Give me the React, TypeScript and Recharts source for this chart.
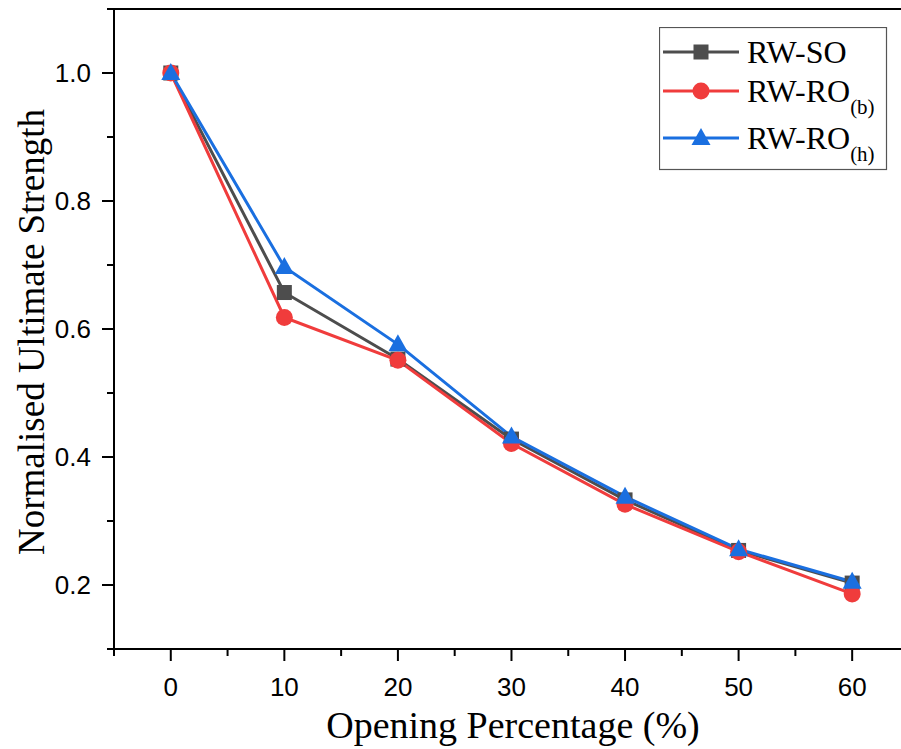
import { LineChart, Line, XAxis, YAxis, ReferenceLine, Label } from 'recharts';

const openings = [0, 10, 20, 30, 40, 50, 60];
const rwSO = [1.0, 0.657, 0.553, 0.428, 0.333, 0.254, 0.203];
const rwROb = [1.0, 0.618, 0.551, 0.421, 0.326, 0.252, 0.186];
const rwROh = [1.0, 0.697, 0.576, 0.432, 0.338, 0.256, 0.205];

const xTicks = [-5, 0, 5, 10, 15, 20, 25, 30, 35, 40, 45, 50, 55, 60];
const yTicks = [0.1, 0.2, 0.3, 0.4, 0.5, 0.6, 0.7, 0.8, 0.9, 1.0, 1.1];

const GRAY = '#4d4d4d';
const RED = '#f03c3c';
const BLUE = '#1a6fe0';

const SANS = '"Liberation Sans", Arial, sans-serif';
const SERIF = '"Liberation Serif", "Times New Roman", serif';

const data = openings.map((x, i) => ({ x, so: rwSO[i], rob: rwROb[i], roh: rwROh[i] }));

function SquareDot({ cx, cy }: any) {
  if (cx == null || cy == null) return null;
  return <rect x={cx - 7.5} y={cy - 7.5} width={15} height={15} fill={GRAY} />;
}
function CircleDot({ cx, cy }: any) {
  if (cx == null || cy == null) return null;
  return <circle cx={cx} cy={cy} r={8.5} fill={RED} />;
}
function TriDot({ cx, cy }: any) {
  if (cx == null || cy == null) return null;
  return <path d={`M${cx},${cy - 10} L${cx + 9.5},${cy + 7} L${cx - 9.5},${cy + 7} Z`} fill={BLUE} />;
}

function XTick({ x, y, payload }: any) {
  const v = payload.value;
  const major = v >= 0 && v % 10 === 0;
  return (
    <g>
      <line x1={x} x2={x} y1={y} y2={y + (major ? 12 : 7)} stroke="#000" strokeWidth={2} />
      {major && (
        <text x={x} y={y + 47} textAnchor="middle" fontFamily={SANS} fontSize={26} fill="#000">
          {v}
        </text>
      )}
    </g>
  );
}

function YTick({ x, y, payload }: any) {
  const v = payload.value;
  const k = Math.round(v * 10);
  const major = k % 2 === 0 && k >= 2 && k <= 10;
  return (
    <g>
      <line x1={x} x2={x - (major ? 12 : 7)} y1={y} y2={y} stroke="#000" strokeWidth={2} />
      {major && (
        <text x={x - 23} y={y + 9} textAnchor="end" fontFamily={SANS} fontSize={26} fill="#000">
          {v.toFixed(1)}
        </text>
      )}
    </g>
  );
}

function LegendBox() {
  const rows = [
    { name: 'RW-SO', sub: '', color: GRAY, Dot: SquareDot, y: 25 },
    { name: 'RW-RO', sub: '(b)', color: RED, Dot: CircleDot, y: 64 },
    { name: 'RW-RO', sub: '(h)', color: BLUE, Dot: TriDot, y: 111 },
  ];
  return (
    <svg width={229} height={144} style={{ position: 'absolute', left: 659, top: 27 }}>
      <rect x={0.5} y={0.5} width={227} height={142} fill="#fff" stroke="#555" strokeWidth={1.2} />
      {rows.map((r) => (
        <g key={r.name + r.sub}>
          <line x1={4} x2={80} y1={r.y} y2={r.y} stroke={r.color} strokeWidth={3} />
          <r.Dot cx={42} cy={r.y} />
          <text x={88} y={r.y + 11} fontFamily={SERIF} fontSize={32} fill="#000">
            {r.name}
            {r.sub && (
              <tspan fontSize={21} dy={12}>
                {r.sub}
              </tspan>
            )}
          </text>
        </g>
      ))}
    </svg>
  );
}

export default function App() {
  return (
    <div style={{ position: 'fixed', left: 0, top: 0, width: 901, height: 749, background: '#fff' }}>
      <LineChart width={901} height={749} data={data} margin={{ top: 9, right: 0, left: 0, bottom: 0 }}>
        <XAxis
          dataKey="x"
          type="number"
          domain={[-5, 64.3]}
          ticks={xTicks}
          interval={0}
          allowDataOverflow
          height={100}
          tickSize={0}
          tickMargin={0}
          tickLine={false}
          tick={<XTick />}
          axisLine={{ stroke: '#000', strokeWidth: 2 }}
        >
          <Label
            content={() => (
              <text x={513} y={738} textAnchor="middle" fontFamily={SERIF} fontSize={38} fill="#000">
                Opening Percentage (%)
              </text>
            )}
          />
        </XAxis>
        <YAxis
          type="number"
          domain={[0.1, 1.1]}
          ticks={yTicks}
          interval={0}
          allowDataOverflow
          width={114}
          tickSize={0}
          tickMargin={0}
          tickLine={false}
          tick={<YTick />}
          axisLine={{ stroke: '#000', strokeWidth: 2 }}
        >
          <Label
            content={() => (
              <text
                x={44}
                y={332}
                transform="rotate(-90 44 332)"
                textAnchor="middle"
                fontFamily={SERIF}
                fontSize={37}
                fill="#000"
              >
                Normalised Ultimate Strength
              </text>
            )}
          />
        </YAxis>
        <ReferenceLine y={1.1} stroke="#000" strokeWidth={2} />
        <Line dataKey="so" stroke={GRAY} strokeWidth={3} dot={<SquareDot />} isAnimationActive={false} />
        <Line dataKey="rob" stroke={RED} strokeWidth={3} dot={<CircleDot />} isAnimationActive={false} />
        <Line dataKey="roh" stroke={BLUE} strokeWidth={3} dot={<TriDot />} isAnimationActive={false} />
      </LineChart>
      <LegendBox />
    </div>
  );
}
